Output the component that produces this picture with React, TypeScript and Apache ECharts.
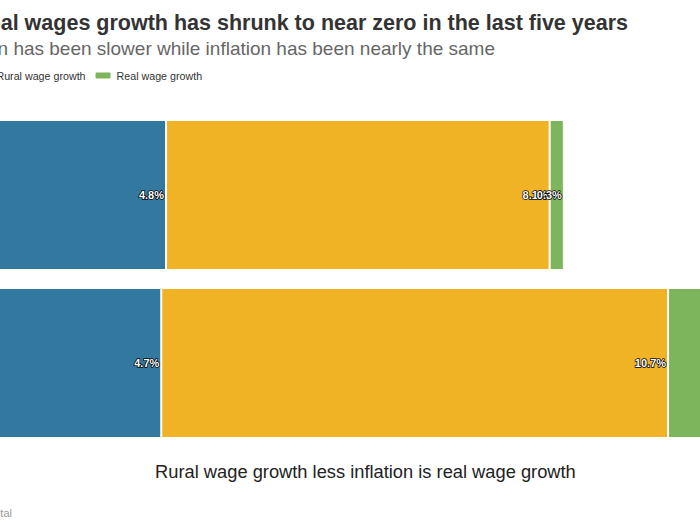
import React, { useEffect, useRef } from 'react';
import * as echarts from 'echarts';

// Categories (bottom to top, as ECharts lays out a category y-axis)
const categories = ['2009-14', '2014-19'];
const seriesNames = ['Inflation', 'Rural wage growth', 'Real wage growth'];
const inflation = [4.7, 4.8];
const ruralWageGrowth = [10.7, 8.1];
const realWageGrowth = [2.0, 0.3];
const colors = ['#33789f', '#efb325', '#7cb55b'];

const titleText = 'Real wages growth has shrunk to near zero in the last five years';
const subtitleText = 'Wage gain has been slower while inflation has been nearly the same';
const axisTitle = 'Rural wage growth less inflation is real wage growth';
const footerText = 'Source: Ambit Capital';

const FONT = '"Liberation Sans", Arial, Helvetica, sans-serif';
const OFF = 150; // chart canvas is shifted left of the viewport
const W = 1050;
const H = 525;

export default function App() {
  const ref = useRef<HTMLDivElement>(null);
  useEffect(() => {
    if (!ref.current) return;
    const chart = echarts.init(ref.current, undefined, { renderer: 'svg' });
    const label = {
      show: true,
      position: 'insideRight',
      distance: 2,
      formatter: '{c}%',
      color: '#fff',
      fontSize: 11,
      fontWeight: 'bold',
      fontFamily: FONT,
      textBorderColor: '#000',
      textBorderWidth: 1.5,
    };
    const valueSets = [inflation, ruralWageGrowth, realWageGrowth];
    chart.setOption({
      animation: false,
      backgroundColor: '#fff',
      textStyle: { fontFamily: FONT },
      title: [
        {
          text: titleText,
          right: W - (628 + OFF),
          top: 12,
          padding: 0,
          textAlign: 'left',
          textStyle: { fontSize: 21.5, fontWeight: 'bold', color: '#333', fontFamily: FONT },
        },
        {
          text: subtitleText,
          right: W - (495 + OFF),
          top: 39,
          padding: 0,
          textAlign: 'left',
          textStyle: { fontSize: 19, fontWeight: 'normal', color: '#666', fontFamily: FONT },
        },
      ],
      legend: {
        data: seriesNames,
        left: OFF - 100,
        top: 65,
        itemWidth: 17,
        itemHeight: 8,
        itemGap: 8,
        icon: 'roundRect',
        textStyle: { fontSize: 10.7, color: '#333', fontFamily: FONT },
      },
      grid: { left: OFF - 61.3, right: W - (OFF - 61.3) - 18 * 47.36, top: 111, bottom: H - 447, containLabel: false },
      xAxis: {
        type: 'value',
        min: 0,
        max: 18,
        axisLabel: { show: false },
        splitLine: { show: false },
        axisLine: { show: false },
        axisTick: { show: false },
        name: axisTitle,
        nameLocation: 'middle',
        nameGap: 15,
        nameTextStyle: { fontSize: 18.3, color: '#222', fontFamily: FONT, padding: [0, 0, 0, 1] },
      },
      yAxis: {
        type: 'category',
        data: categories,
        axisTick: { show: false },
        axisLine: { show: false },
        axisLabel: { fontSize: 11, color: '#666' },
      },
      graphic: [
        {
          type: 'text',
          x: OFF + 12,
          y: 513,
          style: { text: footerText, align: 'right', verticalAlign: 'middle', fontSize: 11, fill: '#999', font: `11px ${FONT}` },
        },
      ],
      series: seriesNames.map((name, i) => ({
        name,
        type: 'bar',
        stack: 'total',
        barWidth: 150,
        data: valueSets[i],
        itemStyle: { color: colors[i], borderColor: '#fff', borderWidth: 1 },
        label,
      })),
    });
    return () => chart.dispose();
  }, []);
  return (
    <div style={{ position: 'fixed', left: 0, top: 0, width: 700, height: 525, overflow: 'hidden', background: '#fff' }}>
      <div ref={ref} style={{ position: 'absolute', left: -OFF, top: 0, width: W, height: H }} />
    </div>
  );
}
